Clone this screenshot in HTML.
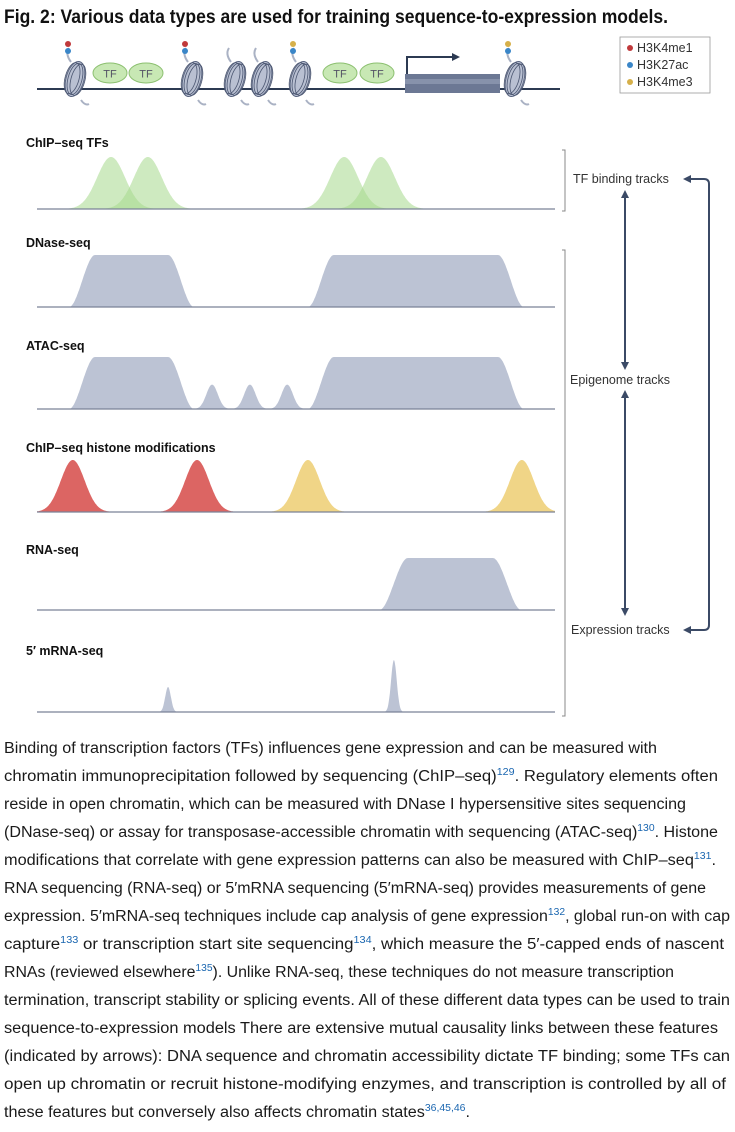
<!DOCTYPE html>
<html><head><meta charset="utf-8"><style>
html,body{margin:0;padding:0;background:#fff;width:735px;height:1132px;overflow:hidden}
svg{display:block}
.lbl{font-family:"Liberation Sans",sans-serif;font-weight:bold;font-size:12.5px;fill:#111}
.side{font-family:"Liberation Sans",sans-serif;font-size:12.5px;fill:#333}
.body{font-family:"Liberation Sans",sans-serif;font-size:15.5px;fill:#1a1a1a}
.ref{fill:#1a66b0;font-size:10px}
</style></head><body>
<svg id="fig" width="735" height="1132" viewBox="0 0 735 1132" xmlns="http://www.w3.org/2000/svg">
<text x="4" y="23" textLength="664" lengthAdjust="spacingAndGlyphs" style="font-family:'Liberation Sans',sans-serif;font-weight:bold;font-size:19px;fill:#111">Fig. 2: Various data types are used for training sequence-to-expression models.</text>

<g id="diagram">
  <line x1="37" y1="89" x2="560" y2="89" stroke="#2c3a52" stroke-width="2"/>
  <g id="nucs"></g>
  <g>
    <rect x="405" y="74" width="95" height="19" fill="#6c7894"/>
    <rect x="405" y="79" width="95" height="5" fill="#8792ab"/>
    <path d="M407 74 V57 H452" fill="none" stroke="#2c3a52" stroke-width="2"/>
    <path d="M452 53 L460 57 L452 61 Z" fill="#2c3a52"/>
  </g>
</g>
<g>
  <rect x="620" y="37" width="90" height="56" fill="#fff" stroke="#999" stroke-width="0.8"/>
  <circle cx="630" cy="48" r="3" fill="#c0393b"/><text class="side" x="637" y="52" font-size="12">H3K4me1</text>
  <circle cx="630" cy="65" r="3" fill="#3a86c8"/><text class="side" x="637" y="69" font-size="12">H3K27ac</text>
  <circle cx="630" cy="82" r="3" fill="#d6b04a"/><text class="side" x="637" y="86" font-size="12">H3K4me3</text>
</g>

<g id="tracks"></g>

<g stroke="#888" stroke-width="1" fill="none">
  <path d="M562 150 H565 V211 H562"/>
  <path d="M562 250 H565 V716 H562"/>
</g>
<text class="side" x="573" y="183">TF binding tracks</text>
<text class="side" x="570" y="384">Epigenome tracks</text>
<text class="side" x="571" y="634">Expression tracks</text>
<g stroke="#3b4a66" stroke-width="2" fill="#3b4a66">
  <line x1="625" y1="196" x2="625" y2="364"/>
  <path d="M621 198 L625 190 L629 198 Z" stroke="none"/><path d="M621 362 L625 370 L629 362 Z" stroke="none"/>
  <line x1="625" y1="396" x2="625" y2="610"/>
  <path d="M621 398 L625 390 L629 398 Z" stroke="none"/><path d="M621 608 L625 616 L629 608 Z" stroke="none"/>
  <path d="M688 179 H704 Q709 179 709 184 V625 Q709 630 704 630 H688" fill="none"/>
  <path d="M691 175 L683 179 L691 183 Z" stroke="none"/><path d="M691 626 L683 630 L691 634 Z" stroke="none"/>
</g>

<g>
<text class="body" x="4" y="753" textLength="653" lengthAdjust="spacingAndGlyphs">Binding of transcription factors (TFs) influences gene expression and can be measured with</text>
<text class="body" x="4" y="781" textLength="714" lengthAdjust="spacingAndGlyphs">chromatin immunoprecipitation followed by sequencing (ChIP–seq)<tspan class="ref" dy="-6">129</tspan><tspan dy="6">. Regulatory elements often</tspan></text>
<text class="body" x="4" y="809" textLength="682" lengthAdjust="spacingAndGlyphs">reside in open chromatin, which can be measured with DNase I hypersensitive sites sequencing</text>
<text class="body" x="4" y="837" textLength="714" lengthAdjust="spacingAndGlyphs">(DNase-seq) or assay for transposase-accessible chromatin with sequencing (ATAC-seq)<tspan class="ref" dy="-6">130</tspan><tspan dy="6">. Histone</tspan></text>
<text class="body" x="4" y="865" textLength="712" lengthAdjust="spacingAndGlyphs">modifications that correlate with gene expression patterns can also be measured with ChIP–seq<tspan class="ref" dy="-6">131</tspan><tspan dy="6">.</tspan></text>
<text class="body" x="4" y="893" textLength="702" lengthAdjust="spacingAndGlyphs">RNA sequencing (RNA-seq) or 5′mRNA sequencing (5′mRNA-seq) provides measurements of gene</text>
<text class="body" x="4" y="921" textLength="726" lengthAdjust="spacingAndGlyphs">expression. 5′mRNA-seq techniques include cap analysis of gene expression<tspan class="ref" dy="-6">132</tspan><tspan dy="6">, global run-on with cap</tspan></text>
<text class="body" x="4" y="949" textLength="720" lengthAdjust="spacingAndGlyphs">capture<tspan class="ref" dy="-6">133</tspan><tspan dy="6"> or transcription start site sequencing</tspan><tspan class="ref" dy="-6">134</tspan><tspan dy="6">, which measure the 5′-capped ends of nascent</tspan></text>
<text class="body" x="4" y="977" textLength="670" lengthAdjust="spacingAndGlyphs">RNAs (reviewed elsewhere<tspan class="ref" dy="-6">135</tspan><tspan dy="6">). Unlike RNA-seq, these techniques do not measure transcription</tspan></text>
<text class="body" x="4" y="1005" textLength="726" lengthAdjust="spacingAndGlyphs">termination, transcript stability or splicing events. All of these different data types can be used to train</text>
<text class="body" x="4" y="1033" textLength="714" lengthAdjust="spacingAndGlyphs">sequence-to-expression models There are extensive mutual causality links between these features</text>
<text class="body" x="4" y="1061" textLength="726" lengthAdjust="spacingAndGlyphs">(indicated by arrows): DNA sequence and chromatin accessibility dictate TF binding; some TFs can</text>
<text class="body" x="4" y="1089" textLength="722" lengthAdjust="spacingAndGlyphs">open up chromatin or recruit histone-modifying enzymes, and transcription is controlled by all of</text>
<text class="body" x="4" y="1117" textLength="466" lengthAdjust="spacingAndGlyphs">these features but conversely also affects chromatin states<tspan class="ref" dy="-6">36,45,46</tspan><tspan dy="6">.</tspan></text>
</g>
</svg>
<script>
// ---- data (position units 0..100 along the genome axis, heights 0..1) ----
const trackNames = ["ChIP–seq TFs","DNase-seq","ATAC-seq","ChIP–seq histone modifications","RNA-seq","5′ mRNA-seq"];
const tfCenters = [14.3, 21.4, 59.3, 66.4];
const tfHeights = [1, 1, 1, 1];
const dnasePlateaus = [[11.2, 25.3], [57.3, 89.0]];
const atacPlateaus = [[11.2, 25.3], [57.3, 89.0]];
const atacPeakCenters = [33.8, 41.1, 48.3];
const atacPeakHeights = [0.47, 0.47, 0.47];
const histoneCenters = [6.9, 30.9, 52.3, 93.6];
const histoneMarks = ["H3K4me1","H3K4me1","H3K4me3","H3K4me3"];
const histoneHeights = [1, 1, 1, 1];
const rnaPlateaus = [[71.6, 88.0]];
const tssCenters = [25.3, 68.9];
const tssHeights = [0.48, 1];

// ---- axes ----
const X0 = 37, X1 = 555, H = 52;
const baselines = [209, 307, 409, 512, 610, 712];
const labelY = [147, 247, 350, 452, 554, 655];
const xs = v => X0 + (v / 100) * (X1 - X0);
const ys = (t, h) => baselines[t] - h * H;
const NS = "http://www.w3.org/2000/svg";
const tracks = document.getElementById('tracks');
function mk(tag, attrs, parent) { const e = document.createElementNS(NS, tag); for (const k in attrs) e.setAttribute(k, attrs[k]); parent.appendChild(e); return e; }
function gauss(c, s, h) { return v => h * Math.exp(-0.5 * ((v - c) / s) ** 2); }
function smooth(t) { t = Math.max(0, Math.min(1, t)); return t * t * (3 - 2 * t); }
function plateau(a, b, r, h) { return v => h * (v < a ? smooth(1 - (a - v) / r) : v > b ? smooth(1 - (v - b) / r) : 1); }
function shapePath(t, f, lo, hi) {
  let d = `M${xs(lo).toFixed(1)} ${baselines[t]}`;
  for (let v = lo; v <= hi + 1e-9; v += 0.1) d += ` L${xs(v).toFixed(1)} ${ys(t, f(v)).toFixed(1)}`;
  return d + ` L${xs(hi).toFixed(1)} ${baselines[t]} Z`;
}
const markColor = { H3K4me1: "#dc6563", H3K4me3: "#f0d587" };

trackNames.forEach((n, t) => {
  const g = mk('g', {}, tracks);
  
  
  const lb = mk('text', { class: 'lbl', x: 26, y: labelY[t] }, g);
  lb.textContent = n;
  
  
});
function addShape(t, f, lo, hi, fill, name, extra) {
  const p = mk('path', Object.assign({ d: shapePath(t, f, Math.max(0, lo), Math.min(100, hi)), fill: fill }, extra || {}), tracks.children[t]);
  
  
}
tfCenters.forEach((c, i) => addShape(0, gauss(c, 2.7, tfHeights[i]), c - 9, c + 9, "#a6d98c", 'tf-peak', { 'fill-opacity': 0.55 }));
dnasePlateaus.forEach(p => addShape(1, plateau(p[0], p[1], 5, 1), p[0] - 5, p[1] + 5, "#bcc3d4", 'dnase-region'));
atacPlateaus.forEach(p => addShape(2, plateau(p[0], p[1], 5, 1), p[0] - 5, p[1] + 5, "#bcc3d4", 'atac-region'));
atacPeakCenters.forEach((c, i) => addShape(2, gauss(c, 1.1, atacPeakHeights[i]), c - 4, c + 4, "#bcc3d4", 'atac-peak'));
histoneCenters.forEach((c, i) => addShape(3, gauss(c, 2.3, histoneHeights[i]), c - 7.5, c + 7.5, markColor[histoneMarks[i]], 'histone-peak'));
rnaPlateaus.forEach(p => addShape(4, plateau(p[0], p[1], 5.5, 1), p[0] - 5.5, p[1] + 5.5, "#bcc3d4", 'rna-region'));
tssCenters.forEach((c, i) => addShape(5, gauss(c, 0.55, tssHeights[i]), c - 2.5, c + 2.5, "#bcc3d4", 'tss-peak'));
baselines.forEach((b, t) => {
  const l = mk('line', { x1: X0, y1: b, x2: X1, y2: b, stroke: "#7a8296", 'stroke-width': 1.2 }, tracks.children[t]);
  
  
});

// ---- chromatin diagram ----
const nucX = [75, 192, 235, 262, 300, 515];
const nucMarks = [["#c0393b","#3a86c8"], ["#c0393b","#3a86c8"], [], [], ["#d6b04a","#3a86c8"], ["#d6b04a","#3a86c8"]];
const nucs = document.getElementById('nucs');
nucX.forEach((x, i) => {
  const g = mk('g', {}, nucs);
  
  
  mk('path', { d: `M${x-4} 62 q-6 -8 -2 -14 M${x+6} 100 q4 6 8 4`, stroke: "#aab2c4", 'stroke-width': 2, fill: "none" }, g);
  mk('ellipse', { cx: x, cy: 79, rx: 9, ry: 18, fill: "#b9c0d2", stroke: "#5a6580", 'stroke-width': 1, transform: `rotate(15 ${x} 79)` }, g);
  for (let k = -1; k <= 1; k++) mk('ellipse', { cx: x + k * 3, cy: 79, rx: 7, ry: 16, fill: "none", stroke: "#4a5570", 'stroke-width': 0.8, transform: `rotate(15 ${x} 79)` }, g);
  nucMarks[i].forEach((c, j) => mk('circle', { cx: x - 7, cy: 44 + j * 7, r: 3, fill: c }, g));
});
[110, 146, 340, 377].forEach(x => {
  const g = mk('g', {}, nucs);
  
  
  mk('ellipse', { cx: x, cy: 73, rx: 17, ry: 10, fill: "#c8e8b4", stroke: "#8cc070", 'stroke-width': 1 }, g);
  const t = mk('text', { x: x, y: 77.5, 'text-anchor': 'middle', style: "font-family:'Liberation Sans',sans-serif;font-size:11px;fill:#556" }, g);
  t.textContent = 'TF';
});
</script>
</body></html>
